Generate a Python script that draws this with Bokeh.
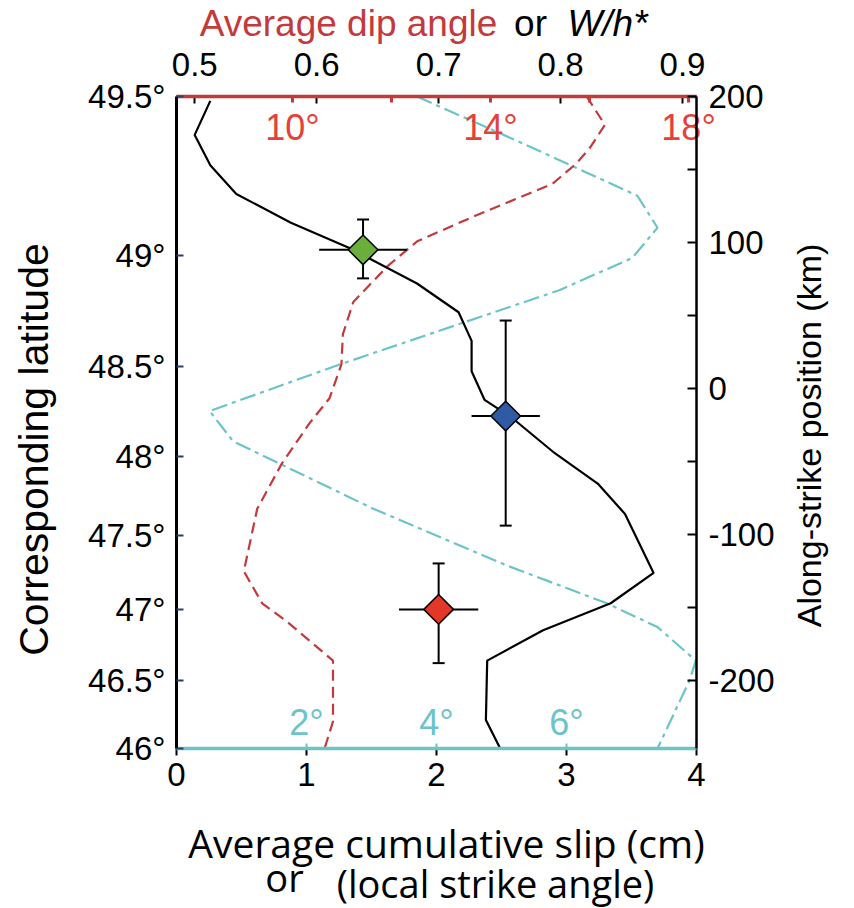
import numpy as np
from bokeh.plotting import figure
from bokeh.models import (Range1d, LinearAxis, FixedTicker, Label, Whisker,
                          TeeHead, ColumnDataSource)
from bokeh.embed import file_html
from bokeh.resources import INLINE

# ---------------- data ----------------
# Average cumulative slip (cm) vs along-strike position (km)
slip_pos_km = [197, 173.7, 152.9, 133.2, 113.5, 96.2, 71.9, 52.2, 32.6, 11.8, -7.9,
               -20.1, -44.4, -65.2, -86.0, -126.4, -147.2, -165.7, -186.5, -227.1, -246.7]
slip_cm = [0.26, 0.14, 0.26, 0.46, 0.88, 1.33, 1.85, 2.17, 2.27, 2.27, 2.37,
           2.58, 2.91, 3.24, 3.45, 3.67, 3.34, 2.82, 2.39, 2.38, 2.49]

# Average dip angle (deg)
dip_pos_km = [200, 193.3, 180.6, 164.4, 154.0, 140.1, 118.1, 100.8, 83.4, 59.2, 37.2,
              16.4, -6.7, -24.1, -51.3, -82.5, -125.3, -147.2, -160.0, -186.5, -228.2, -246.7]
dip_deg = [15.94, 16.07, 16.31, 16.0, 15.73, 15.25, 13.68, 12.52, 11.91, 11.23, 11.02,
           10.99, 10.75, 10.34, 9.79, 9.29, 9.02, 9.39, 9.90, 10.82, 10.82, 10.65]

# Local strike angle (deg)
strike_pos_km = [200, 169.0, 132.0, 110.1, 89.3, 67.3, 45.3, 16.4, -15.5, -36.2,
                 -82.5, -121.8, -147.2, -163.5, -186.5, -200.4, -246.7]
strike_deg = [3.70, 5.27, 7.09, 7.40, 7.01, 5.89, 4.43, 2.51, 0.51, 0.87,
              3.03, 5.11, 6.62, 7.40, 7.99, 7.89, 7.40]

# W/h* estimates (diamonds)
wh_val = [0.638, 0.755, 0.700]
wh_err = [0.036, 0.028, 0.0325]
wh_pos_km = [95.0, -18.9, -151.4]
wh_pos_lo = [75.4, -94.0, -188.2]
wh_pos_hi = [115.8, 46.5, -119.9]
wh_colors = ["#6aae3c", "#2e5ba3", "#e2382a"]

# ticks
lat_tick_km = [200.0, 91.1, 14.8, -46.6, -100.9, -151.5, -200.1, -246.7]
lat_tick_labels = ["49.5°", "49°", "48.5°", "48°", "47.5°", "47°", "46.5°", "46°"]
pos_ticks = [-200, -100, 0, 100, 200]
pos_tick_labels = ["-200", "-100", "0", "100", "200"]
pos_minor_ticks = [-150, -50, 50, 150]
slip_ticks = [0, 1, 2, 3, 4]
wh_ticks = [0.5, 0.6, 0.7, 0.8, 0.9]
dip_ticks = [10, 12, 14, 16, 18]
dip_tick_labels = ["10°", "", "14°", "", "18°"]
strike_ticks = [2, 4, 6]
strike_tick_labels = ["2°", "4°", "6°"]

POS_RANGE = (-246.7, 200.0)
SLIP_RANGE = (0.0, 4.0)
WH_RANGE = (0.485, 0.9115)
DIP_RANGE = (7.66, 18.16)
STRIKE_RANGE = (0.0, 8.0)

# ---------------- layout (canvas pixels) ----------------
W, H = 854, 908
BOX_L, BOX_R, BOX_T, BOX_B = 176, 696, 96, 748

def x_ext(rng):
    lo, hi = rng
    s = (hi - lo) / (BOX_R - BOX_L)
    return (lo - BOX_L * s, hi + (W - BOX_R) * s)

def y_ext(rng):
    lo, hi = rng
    s = (hi - lo) / (BOX_B - BOX_T)
    return (lo - (H - BOX_B) * s, hi + BOX_T * s)

FONT = "Liberation Sans"
RED_LINE = "#c4393b"
RED_TXT = "#e3413a"
CYAN = "#6cc4c8"
TICK_SIZE = "33px"

p = figure(width=W, height=H,
           x_range=Range1d(*x_ext(SLIP_RANGE)), y_range=Range1d(*y_ext(POS_RANGE)),
           x_axis_location=None, y_axis_location=None, title=None,
           output_backend="svg", toolbar_location=None, min_border=0)
p.outline_line_color = None
p.grid.visible = False
p.background_fill_color = "white"
p.border_fill_color = "white"
p.extra_x_ranges = {"wh": Range1d(*x_ext(WH_RANGE)),
                    "dip": Range1d(*x_ext(DIP_RANGE)),
                    "strike": Range1d(*x_ext(STRIKE_RANGE))}

def style(ax, size=TICK_SIZE, color="black"):
    ax.major_label_text_font = FONT
    ax.major_label_text_font_size = size
    ax.major_label_text_color = color
    ax.minor_tick_line_color = None

# left: corresponding latitude
ax_l = LinearAxis(fixed_location=SLIP_RANGE[0], bounds=POS_RANGE,
                  ticker=FixedTicker(ticks=lat_tick_km),
                  major_label_overrides=dict(zip(lat_tick_km, lat_tick_labels)))
style(ax_l)
ax_l.major_tick_in = 7
ax_l.major_tick_out = 0
ax_l.major_tick_line_color = "#2f3d6e"
ax_l.major_tick_line_width = 2
ax_l.axis_line_width = 3
ax_l.major_label_standoff = 11
p.add_layout(ax_l, "left")

# right: along-strike position
ax_r = LinearAxis(fixed_location=SLIP_RANGE[1], bounds=POS_RANGE,
                  ticker=FixedTicker(ticks=pos_ticks, minor_ticks=pos_minor_ticks),
                  major_label_overrides=dict(zip(pos_ticks, pos_tick_labels)))
style(ax_r)
ax_r.minor_tick_line_color = "black"
ax_r.major_tick_in = 9
ax_r.major_tick_out = 0
ax_r.minor_tick_in = 9
ax_r.minor_tick_out = 0
ax_r.major_tick_line_width = 2
ax_r.minor_tick_line_width = 2
ax_r.axis_line_width = 2.5
ax_r.major_label_standoff = 12
p.add_layout(ax_r, "right")

# bottom: slip
ax_b = LinearAxis(fixed_location=POS_RANGE[0], bounds=SLIP_RANGE,
                  ticker=FixedTicker(ticks=slip_ticks))
style(ax_b)
ax_b.major_tick_in = 0
ax_b.major_tick_out = 7
ax_b.major_tick_line_width = 2
ax_b.axis_line_width = 2.5
ax_b.major_label_standoff = 7
p.add_layout(ax_b, "below")

# bottom inner: local strike angle (cyan)
ax_s = LinearAxis(x_range_name="strike", fixed_location=POS_RANGE[0], bounds=STRIKE_RANGE,
                  ticker=FixedTicker(ticks=strike_ticks),
                  major_label_overrides=dict(zip(strike_ticks, strike_tick_labels)))
style(ax_s, "36px", CYAN)
ax_s.axis_line_color = CYAN
ax_s.axis_line_width = 3.5
ax_s.major_tick_line_color = CYAN
ax_s.major_tick_line_width = 2
ax_s.major_tick_in = 5
ax_s.major_tick_out = 0
ax_s.major_label_standoff = -47
p.add_layout(ax_s, "below")

# top: W/h*
ax_w = LinearAxis(x_range_name="wh", fixed_location=POS_RANGE[1], bounds=WH_RANGE,
                  ticker=FixedTicker(ticks=wh_ticks))
style(ax_w)
ax_w.major_tick_in = 7
ax_w.major_tick_out = 0
ax_w.major_tick_line_width = 2
ax_w.axis_line_width = 2.5
ax_w.major_label_standoff = 21
p.add_layout(ax_w, "above")

# top inner: average dip angle (red)
ax_d = LinearAxis(x_range_name="dip", fixed_location=POS_RANGE[1], bounds=DIP_RANGE,
                  ticker=FixedTicker(ticks=dip_ticks),
                  major_label_overrides=dict(zip(dip_ticks, dip_tick_labels)))
style(ax_d, "36px", RED_TXT)
ax_d.axis_line_color = RED_LINE
ax_d.axis_line_width = 3.5
ax_d.major_tick_line_color = RED_LINE
ax_d.major_tick_line_width = 3
ax_d.major_tick_in = 6
ax_d.major_tick_out = 0
ax_d.major_label_standoff = -51
p.add_layout(ax_d, "above")

# ---------------- curves ----------------
p.line(strike_deg, strike_pos_km, x_range_name="strike", line_color=CYAN,
       line_width=2.2, line_dash="16 5 4 5")
p.line(dip_deg, dip_pos_km, x_range_name="dip", line_color=RED_LINE,
       line_width=2.2, line_dash="11 6")
p.line(slip_cm, slip_pos_km, line_color="black", line_width=2.2)

# ---------------- W/h* diamonds with error bars ----------------
src = ColumnDataSource(dict(
    wh=wh_val,
    wlo=[v - e for v, e in zip(wh_val, wh_err)],
    whi=[v + e for v, e in zip(wh_val, wh_err)],
    pos=wh_pos_km, lo=wh_pos_lo, hi=wh_pos_hi, color=wh_colors))

p.segment(x0="wlo", y0="pos", x1="whi", y1="pos", source=src, x_range_name="wh",
          line_color="black", line_width=2)
p.add_layout(Whisker(source=src, base="wh", lower="lo", upper="hi", dimension="height",
                     x_range_name="wh", line_color="black", line_width=2, level="underlay",
                     upper_head=TeeHead(size=12, line_width=2),
                     lower_head=TeeHead(size=12, line_width=2)))
p.scatter(x="wh", y="pos", source=src, x_range_name="wh", marker="square",
          angle=np.pi / 4, size=21, fill_color="color", line_color="black", line_width=1.5)

# ---------------- titles (screen units, origin bottom-left of canvas) ----------------
def add_label(text, cx, cy, size, color="black", style="normal", font=FONT, angle=0.0):
    p.add_layout(Label(text=text, x=cx, y=H - cy, x_units="screen", y_units="screen",
                       text_font=font, text_font_size=size, text_color=color,
                       text_font_style=style, text_align="center",
                       text_baseline="middle", angle=angle))

add_label("Average dip angle", 348, 23, "37px", RED_LINE)
add_label("or", 530, 23, "37px")
add_label("W/h*", 607, 23, "37px", style="italic")
add_label("Corresponding latitude", 33, 449, "41px", angle=np.pi / 2)
add_label("Along-strike position (km)", 808, 435, "34px", angle=np.pi / 2)
add_label("Average cumulative slip (cm)", 446, 842, "39px", font="Open Sans")
add_label("or", 284, 876, "38px", font="Open Sans")
add_label("(local strike angle)", 495, 882, "38px", font="Open Sans")

open("out.html", "w").write(file_html(p, INLINE))
